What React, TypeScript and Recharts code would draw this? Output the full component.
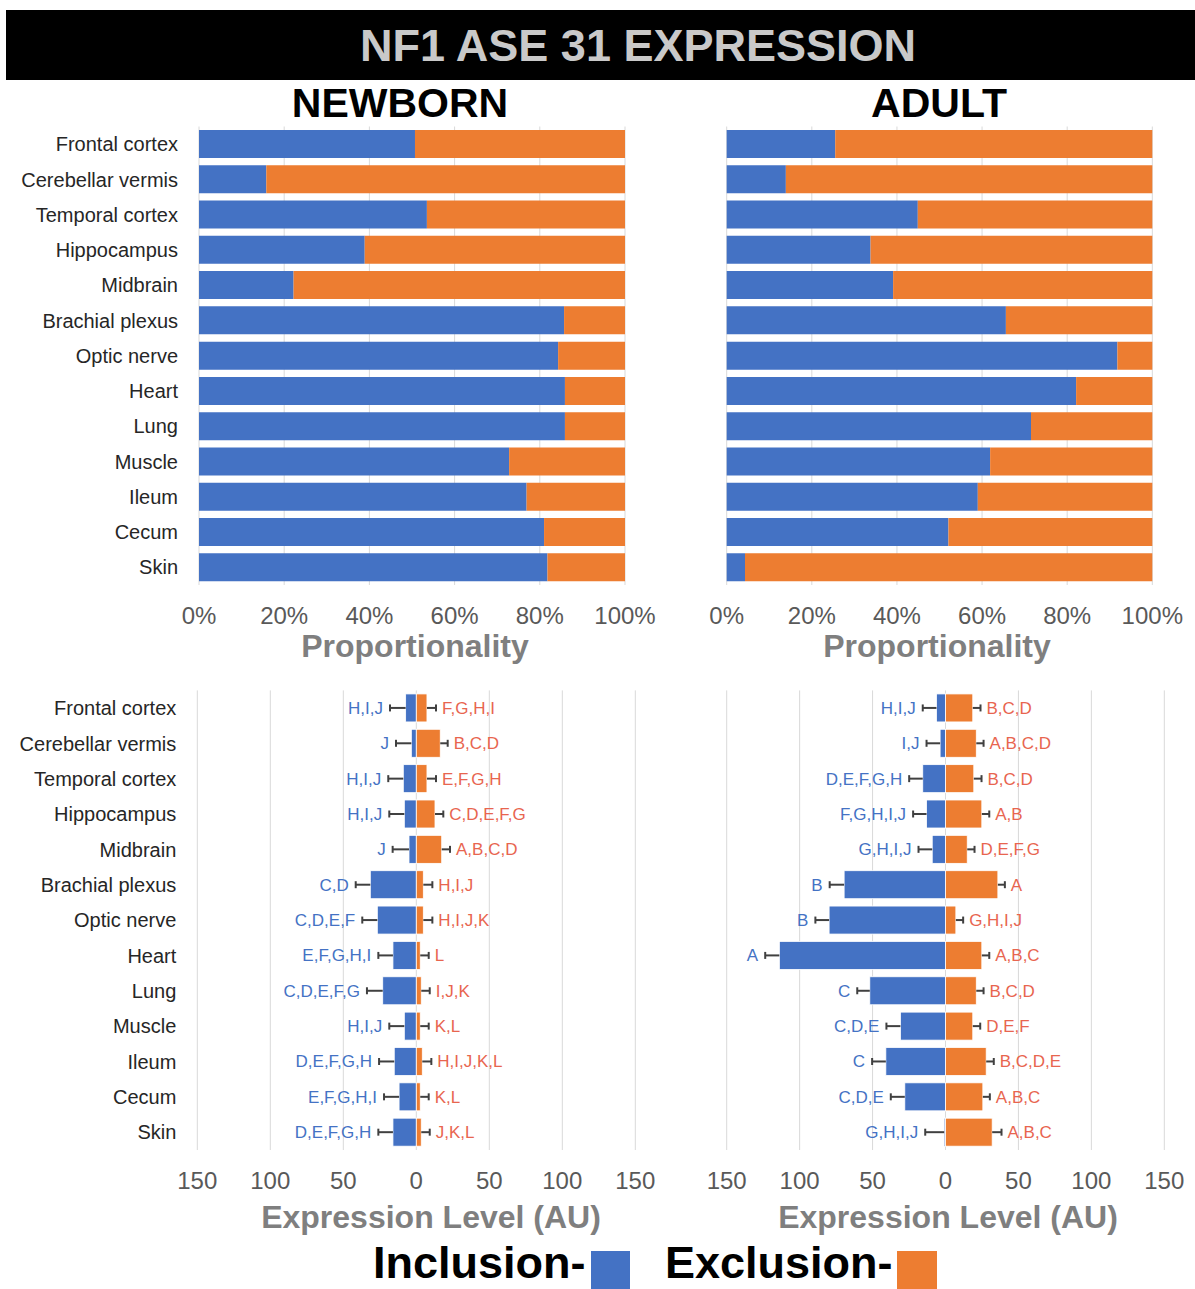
import { BarChart, Bar, XAxis, YAxis, CartesianGrid } from 'recharts'

const tissues = [
  'Frontal cortex', 'Cerebellar vermis', 'Temporal cortex', 'Hippocampus', 'Midbrain',
  'Brachial plexus', 'Optic nerve', 'Heart', 'Lung', 'Muscle', 'Ileum', 'Cecum', 'Skin',
]

// proportionality (%)
const newbornInclusionPct = [50.7, 15.8, 53.5, 38.9, 22.2, 85.7, 84.3, 85.9, 85.9, 72.8, 76.9, 81.0, 81.8]
const newbornExclusionPct = [49.3, 84.2, 46.5, 61.1, 77.8, 14.3, 15.7, 14.1, 14.1, 27.2, 23.1, 19.0, 18.2]
const adultInclusionPct = [25.5, 13.9, 44.9, 33.8, 39.1, 65.6, 91.8, 82.1, 71.5, 61.9, 59.0, 52.1, 4.3]
const adultExclusionPct = [74.5, 86.1, 55.1, 66.2, 60.9, 34.4, 8.2, 17.9, 28.5, 38.1, 41.0, 47.9, 95.7]
const pctTicks = [0, 20, 40, 60, 80, 100]

// expression level (AU)
const newbornInclusion = [7.3, 3.4, 8.9, 8.2, 5.0, 31.5, 26.7, 16.0, 23.0, 8.2, 15.1, 11.8, 16.0]
const newbornInclusionErr = [10.7, 10.5, 10.3, 10.3, 11.2, 10.0, 10.3, 10.0, 10.8, 10.3, 10.4, 10.3, 10.0]
const newbornExclusion = [7.3, 16.4, 7.3, 12.8, 17.4, 4.8, 4.8, 2.7, 3.4, 2.7, 4.1, 2.7, 3.4]
const newbornExclusionErr = [6.2, 5.1, 6.2, 5.7, 5.7, 6.2, 6.2, 5.8, 5.8, 5.8, 6.2, 5.8, 5.8]
const adultInclusion = [6.2, 3.7, 15.6, 13.0, 9.1, 69.5, 79.8, 113.9, 51.9, 30.9, 40.9, 27.9, 0.9]
const adultInclusionErr = [9.4, 9.3, 9.3, 9.2, 9.4, 9.9, 9.4, 9.7, 8.6, 9.6, 9.4, 9.6, 13.0]
const adultExclusion = [18.7, 21.1, 19.4, 24.9, 14.9, 35.9, 7.1, 24.9, 21.1, 18.7, 27.9, 25.6, 32.0]
const adultExclusionErr = [5.3, 5.0, 5.3, 5.1, 5.0, 4.8, 5.0, 5.1, 5.0, 5.1, 5.2, 4.8, 6.4]
const levelTicks = [-150, -100, -50, 0, 50, 100, 150]

// significance letters
const newbornIncLetters = ['H,I,J', 'J', 'H,I,J', 'H,I,J', 'J', 'C,D', 'C,D,E,F', 'E,F,G,H,I', 'C,D,E,F,G', 'H,I,J', 'D,E,F,G,H', 'E,F,G,H,I', 'D,E,F,G,H']
const newbornExcLetters = ['F,G,H,I', 'B,C,D', 'E,F,G,H', 'C,D,E,F,G', 'A,B,C,D', 'H,I,J', 'H,I,J,K', 'L', 'I,J,K', 'K,L', 'H,I,J,K,L', 'K,L', 'J,K,L']
const adultIncLetters = ['H,I,J', 'I,J', 'D,E,F,G,H', 'F,G,H,I,J', 'G,H,I,J', 'B', 'B', 'A', 'C', 'C,D,E', 'C', 'C,D,E', 'G,H,I,J']
const adultExcLetters = ['B,C,D', 'A,B,C,D', 'B,C,D', 'A,B', 'D,E,F,G', 'A', 'G,H,I,J', 'A,B,C', 'B,C,D', 'D,E,F', 'B,C,D,E', 'A,B,C', 'A,B,C']

const BLUE = '#4472C4'
const ORANGE = '#ED7D31'
const RED_TEXT = '#E8654F'
const FONT = '"Liberation Sans", Arial, Helvetica, sans-serif'

const pctRows = (inc: number[], exc: number[]) =>
  tissues.map((t, i) => ({ tissue: t, inc: inc[i], exc: exc[i] }))

const levelRows = (inc: number[], incErr: number[], incLab: string[], exc: number[], excErr: number[], excLab: string[]) =>
  tissues.map((t, i) => ({
    tissue: t,
    inc: -inc[i], incErr: incErr[i], incLab: incLab[i],
    exc: exc[i], excErr: excErr[i], excLab: excLab[i],
  }))

// bar + one-sided error bar + letters, all from the bar geometry recharts hands over
const levelShape = (side: 'inc' | 'exc') => (props: any) => {
  const { payload } = props
  const x = Number(props.x), w = Number(props.width)
  const y = Number(props.y), h = Number(props.height)
  const x0 = Math.min(x, x + w)
  const x1 = Math.max(x, x + w)
  const v = Math.abs(payload[side])
  const ppu = v > 0 ? (x1 - x0) / v : 0
  const errPx = payload[side === 'inc' ? 'incErr' : 'excErr'] * ppu
  const cy = y + h / 2
  const base = side === 'inc' ? x0 : x1
  const end = side === 'inc' ? base - errPx : base + errPx
  const label = side === 'inc' ? payload.incLab : payload.excLab
  return (
    <g>
      <rect x={x0} y={y} width={x1 - x0} height={h} fill={side === 'inc' ? BLUE : ORANGE} stroke="#ffffff" strokeWidth={0.8} />
      <line x1={base} y1={cy} x2={end} y2={cy} stroke="#404040" strokeWidth={2} />
      <line x1={end} y1={cy - 3.5} x2={end} y2={cy + 3.5} stroke="#404040" strokeWidth={2} />
      <text
        x={side === 'inc' ? end - 7 : end + 6}
        y={cy}
        dy="0.35em"
        textAnchor={side === 'inc' ? 'end' : 'start'}
        fontSize={17}
        fontFamily={FONT}
        fill={side === 'inc' ? BLUE : RED_TEXT}
      >
        {label}
      </text>
    </g>
  )
}

const tickStyle = { fill: '#595959', fontSize: 24, fontFamily: FONT }
const catStyle = { fill: '#262626', fontSize: 20, fontFamily: FONT }

function PctChart({ data, showCats, left }: any) {
  return (
    <div style={{ position: 'absolute', left: showCats ? 0 : 690, top: 120 }}>
      <BarChart
        width={showCats ? 660 : 500}
        height={515}
        layout="vertical"
        data={data}
        barCategoryGap="10%"
        margin={{ top: 6.5, right: showCats ? 35 : 37.7, bottom: 0, left: left }}
      >
        <CartesianGrid horizontal={false} stroke="#D9D9D9" />
        <XAxis
          type="number"
          domain={[0, 100]}
          ticks={pctTicks}
          interval={0}
          tickFormatter={(v: number) => `${v}%`}
          axisLine={false}
          tickLine={false}
          tickSize={0}
          tickMargin={21.5}
          height={50}
          tick={tickStyle}
        />
        <YAxis
          type="category"
          dataKey="tissue"
          hide={!showCats}
          width={199}
          interval={0}
          axisLine={false}
          tickLine={false}
          tickSize={0}
          tickMargin={21}
          tick={catStyle}
        />
        <Bar dataKey="inc" stackId="p" fill={BLUE} isAnimationActive={false} />
        <Bar dataKey="exc" stackId="p" fill={ORANGE} isAnimationActive={false} />
      </BarChart>
    </div>
  )
}

function LevelChart({ data, showCats, left }: any) {
  return (
    <div style={{ position: 'absolute', left: showCats ? 0 : 690, top: 680 }}>
      <BarChart
        width={showCats ? 660 : 500}
        height={520}
        layout="vertical"
        data={data}
        stackOffset="sign"
        barCategoryGap="10%"
        margin={{ top: 10.4, right: showCats ? 24.7 : 25.7, bottom: 0, left: left }}
      >
        <CartesianGrid horizontal={false} stroke="#D9D9D9" />
        <XAxis
          type="number"
          domain={[-150, 150]}
          ticks={levelTicks}
          interval={0}
          tickFormatter={(v: number) => `${Math.abs(v)}`}
          axisLine={false}
          tickLine={false}
          tickSize={0}
          tickMargin={21.5}
          height={50}
          tick={tickStyle}
        />
        <YAxis
          type="category"
          dataKey="tissue"
          hide={!showCats}
          width={197.3}
          interval={0}
          axisLine={false}
          tickLine={false}
          tickSize={0}
          tickMargin={21}
          tick={catStyle}
        />
        <Bar dataKey="inc" stackId="s" shape={levelShape('inc')} isAnimationActive={false} />
        <Bar dataKey="exc" stackId="s" shape={levelShape('exc')} isAnimationActive={false} />
      </BarChart>
    </div>
  )
}

const textAt = (txt: string, cx: number, top: number, size: number, color: string) => (
  <div style={{
    position: 'absolute', left: cx - 400, width: 800, top, textAlign: 'center',
    fontSize: size, lineHeight: `${size}px`, fontWeight: 700, color, fontFamily: FONT, whiteSpace: 'nowrap',
  }}>{txt}</div>
)

export default function App() {
  return (
    <div style={{ position: 'absolute', left: 0, top: 0, width: 1195, height: 1289, background: '#fff', overflow: 'hidden', fontFamily: FONT }}>
      <div style={{ position: 'absolute', left: 6, top: 10, width: 1189, height: 70, background: '#000' }} />
      {textAt('NF1 ASE 31 EXPRESSION', 638, 23, 45, '#C9C9C9')}
      {textAt('NEWBORN', 400, 83, 41, '#000')}
      {textAt('ADULT', 939, 83, 41, '#000')}

      <PctChart data={pctRows(newbornInclusionPct, newbornExclusionPct)} showCats left={0} />
      <PctChart data={pctRows(adultInclusionPct, adultExclusionPct)} showCats={false} left={36.7} />
      {textAt('Proportionality', 415, 630, 32, '#7F7F7F')}
      {textAt('Proportionality', 937, 630, 32, '#7F7F7F')}

      <LevelChart
        data={levelRows(newbornInclusion, newbornInclusionErr, newbornIncLetters, newbornExclusion, newbornExclusionErr, newbornExcLetters)}
        showCats
        left={0}
      />
      <LevelChart
        data={levelRows(adultInclusion, adultInclusionErr, adultIncLetters, adultExclusion, adultExclusionErr, adultExcLetters)}
        showCats={false}
        left={36.7}
      />
      {textAt('Expression Level (AU)', 431, 1201, 32, '#7F7F7F')}
      {textAt('Expression Level (AU)', 948, 1201, 32, '#7F7F7F')}

      <div style={{ position: 'absolute', left: 373, top: 1240, fontSize: 45, lineHeight: '45px', fontWeight: 700, color: '#000', whiteSpace: 'nowrap' }}>Inclusion-</div>
      <div style={{ position: 'absolute', left: 591, top: 1251, width: 39, height: 38, background: BLUE }} />
      <div style={{ position: 'absolute', left: 665, top: 1240, fontSize: 45, lineHeight: '45px', fontWeight: 700, color: '#000', whiteSpace: 'nowrap' }}>Exclusion-</div>
      <div style={{ position: 'absolute', left: 897, top: 1251, width: 40, height: 38, background: ORANGE }} />
    </div>
  )
}
